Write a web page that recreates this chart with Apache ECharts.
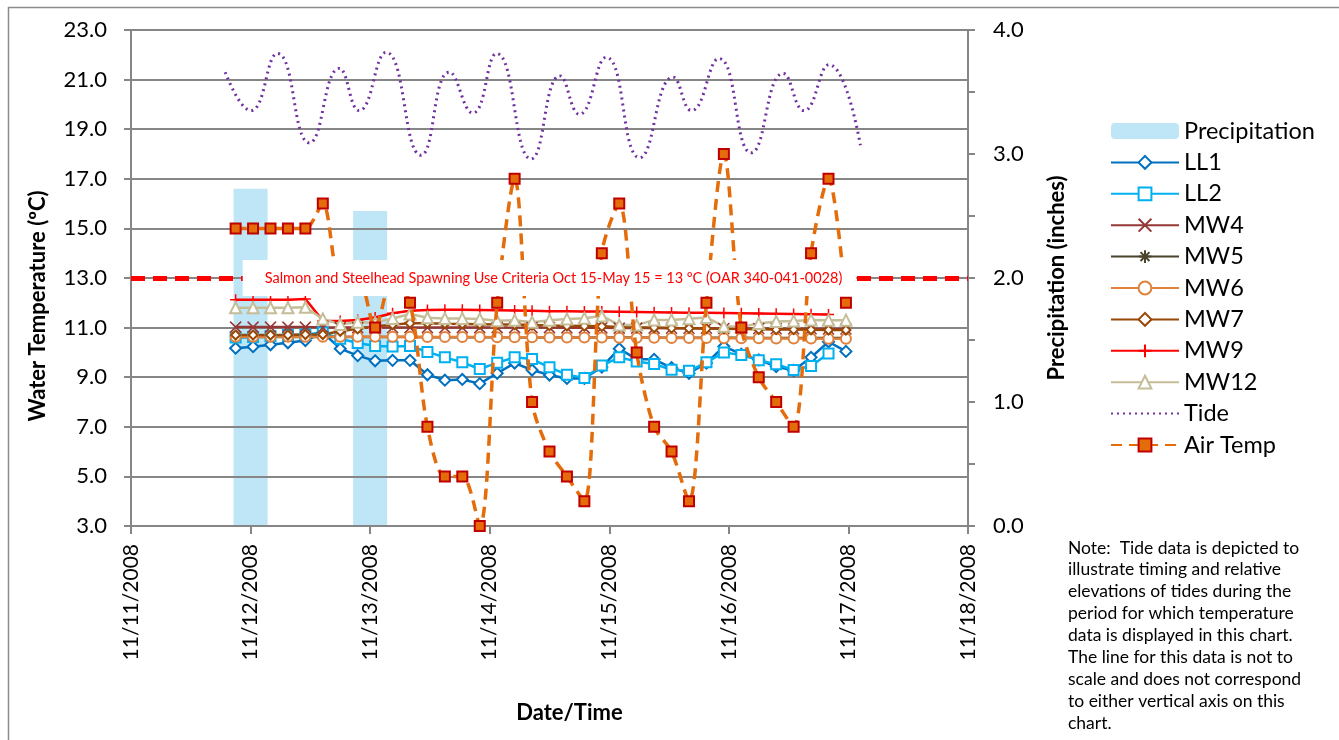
<!DOCTYPE html>
<html>
<head>
<meta charset="utf-8">
<script src="https://cdn.jsdelivr.net/npm/echarts@6/dist/echarts.min.js"></script>
<style>html,body{margin:0;padding:0;background:#fff}#c{width:1339px;height:740px}</style>
</head>
<body>
<div id="c"></div>
<script>
// ---- data ----
const dateLabels = ['11/11/2008','11/12/2008','11/13/2008','11/14/2008','11/15/2008','11/16/2008','11/17/2008','11/18/2008'];
// sample times, hours after 11/11/2008 00:00
const sampleHours = [21,24.5,28,31.5,35,38.5,42,45.5,49,52.5,56,59.5,63,66.5,70,73.5,77,80.5,84,87.5,91,94.5,98,101.5,105,108.5,112,115.5,119,122.5,126,129.5,133,136.5,140,143.5];
const precipHours = [24, 48];
const precipInches = [2.72, 2.54];
const LL1 = [10.17,10.23,10.31,10.39,10.48,10.8,10.15,9.87,9.66,9.68,9.68,9.1,8.88,8.91,8.74,9.16,9.57,9.29,9.09,8.95,8.95,9.41,10.15,9.72,9.72,9.38,9.16,9.57,10.24,9.93,9.7,9.43,9.27,9.8,10.43,10.04];
const LL2 = [10.6,10.62,10.65,10.7,10.72,10.8,10.55,10.38,10.26,10.24,10.26,10.02,9.8,9.6,9.33,9.58,9.8,9.73,9.4,9.1,8.97,9.47,9.8,9.63,9.53,9.3,9.26,9.6,10.0,9.9,9.68,9.52,9.29,9.45,9.96];
const MW4 = [11.02,11.02,11.02,11.02,11.02,11.0,11.0,11.0,11.0,11.0,11.0,11.0,11.0,11.0,11.0,11.0,11.0,11.0,11.0,10.99,10.99,10.99,10.98,10.98,10.98,10.97,10.97,10.97,10.96,10.96,10.96,10.95,10.95,10.95,10.94,10.94];
const MW5 = [10.62,10.62,10.62,10.62,10.62,10.62,10.62,10.62,10.62,10.62,10.62,10.61,10.61,10.61,10.61,10.61,10.61,10.6,10.6,10.6,10.6,10.6,10.6,10.6,10.59,10.59,10.59,10.59,10.59,10.59,10.58,10.58,10.58,10.58,10.58,10.58];
const MW6 = [10.63,10.63,10.63,10.63,10.63,10.63,10.63,10.63,10.63,10.63,10.63,10.62,10.62,10.62,10.62,10.61,10.61,10.61,10.6,10.6,10.6,10.6,10.59,10.59,10.59,10.58,10.58,10.58,10.57,10.57,10.57,10.56,10.56,10.56,10.55,10.55];
const MW7 = [10.7,10.7,10.7,10.7,10.72,10.72,10.85,10.95,11.05,11.12,11.18,11.18,11.16,11.15,11.14,11.13,11.12,11.1,11.08,11.07,11.06,11.05,11.02,11.0,11.0,10.98,10.97,10.96,10.95,10.94,10.93,10.92,10.92,10.91,10.9,10.9];
const MW9 = [12.12,12.12,12.12,12.12,12.15,11.28,11.27,11.31,11.41,11.58,11.68,11.71,11.72,11.72,11.71,11.7,11.69,11.68,11.66,11.66,11.65,11.65,11.64,11.63,11.62,11.61,11.6,11.6,11.59,11.58,11.57,11.56,11.55,11.54,11.53];
const MW12 = [11.8,11.8,11.8,11.8,11.82,11.35,11.13,11.22,11.2,11.37,11.55,11.4,11.37,11.37,11.35,11.28,11.3,11.22,11.3,11.35,11.38,11.47,11.1,11.1,11.31,11.31,11.36,11.41,11.05,11.03,11.17,11.25,11.27,11.31,11.3,11.3];
const airTemp = [15,15,15,15,15,16,13,13,11,13,12,7,5,5,3,12,17,8,6,5,4,14,16,10,7,6,4,12,18,11,9,8,7,14,17,12];
// tide (not to scale), drawn against the left axis
const tideHours = [18.9,24.05,29.4,35.8,41.8,45.8,51.2,58.2,63.9,68.6,73.4,80.3,86.1,90.0,95.4,102.1,108.8,112.5,118.0,124.5,130.9,135.1,140.1,146.4];
const tideLevel = [21.3,19.75,22.05,18.45,21.45,19.75,22.1,17.95,21.3,19.65,22.05,17.8,21.15,19.6,21.9,17.85,21.1,19.75,21.85,18.05,21.25,19.75,21.6,18.35];
const criteriaValue = 13;
const criteriaText = 'Salmon and Steelhead Spawning Use Criteria Oct 15-May 15 = 13 \u00baC (OAR 340-041-0028)';
const noteLines = ['Note:  Tide data is depicted to','illustrate timing and relative','elevations of tides during the','period for which temperature','data is displayed in this chart.','The line for this data is not to','scale and does not correspond','to either vertical axis on this','chart.'];

const FONT = 'Lato, "Open Sans", sans-serif';
const pair = (xs, ys) => ys.map((v, i) => [xs[i], v]);

function wtSeries(name, data, color, symbol, size) {
  return {
    name, type: 'line', yAxisIndex: 0, z: 3,
    data: pair(sampleHours, data),
    symbol, symbolSize: size,
    lineStyle: { color, width: 2.5 },
    itemStyle: { color, borderColor: color, borderWidth: 1.5 },
    emphasis: { disabled: true }
  };
}

const chart = echarts.init(document.getElementById('c'));
chart.setOption({
  animation: false,
  backgroundColor: '#fff',
  textStyle: { fontFamily: FONT },
  grid: { left: 131, right: 371, top: 30, bottom: 214 },
  legend: {
    orient: 'vertical', left: 1105, top: 114,
    itemWidth: 68, itemHeight: 16, itemGap: 7.4,
    textStyle: { fontSize: 23.5, color: '#000', fontFamily: FONT },
    data: ['Precipitation','LL1','LL2','MW4','MW5','MW6','MW7','MW9','MW12',
      { name: 'Tide', itemStyle: { opacity: 0 } }, 'Air Temp']
  },
  xAxis: {
    type: 'value', min: 0, max: 168, interval: 24,
    name: 'Date/Time', nameLocation: 'middle', nameGap: 176,
    nameTextStyle: { fontSize: 22, fontWeight: 'bold', color: '#000', padding: [0, 0, 0, 40] },
    axisLine: { show: true, lineStyle: { color: '#868686', width: 2 } },
    axisTick: { show: true, length: 8, lineStyle: { color: '#868686', width: 2 } },
    splitLine: { show: false },
    axisLabel: { rotate: 90, margin: 18, fontSize: 21, color: '#000',
      formatter: v => dateLabels[Math.round(v / 24)] }
  },
  yAxis: [
    {
      type: 'value', min: 3, max: 23, interval: 2, z: 1,
      name: 'Water Temperature (\u00baC)', nameLocation: 'middle', nameGap: 82, nameRotate: 90,
      nameTextStyle: { fontSize: 22, fontWeight: 'bold', color: '#000', padding: [0, 56, 0, 0] },
      axisLine: { show: true, lineStyle: { color: '#868686', width: 2 } },
      axisTick: { show: true, length: 7, lineStyle: { color: '#868686', width: 2 } },
      splitLine: { show: true, lineStyle: { color: '#868686', width: 2 } },
      axisLabel: { margin: 24, fontSize: 22, color: '#000', formatter: v => v.toFixed(1) }
    },
    {
      type: 'value', min: 0, max: 4, interval: 0.5, position: 'right', z: 1,
      name: 'Precipitation (inches)', nameLocation: 'middle', nameGap: 78, nameRotate: 90,
      nameTextStyle: { fontSize: 22, fontWeight: 'bold', color: '#000' },
      axisLine: { show: true, lineStyle: { color: '#868686', width: 2 } },
      axisTick: { show: true, length: 7, lineStyle: { color: '#868686', width: 2 } },
      splitLine: { show: false },
      axisLabel: { margin: 25, fontSize: 22, color: '#000',
        formatter: v => (Math.abs(v % 1) < 1e-9 ? v.toFixed(1) : '') }
    }
  ],
  series: [
    {
      name: 'Precipitation', type: 'bar', yAxisIndex: 1, z: 0,
      data: pair(precipHours, precipInches), barWidth: 34,
      itemStyle: { color: '#bfe6f7' }
    },
    wtSeries('LL1', LL1, '#0070c0', 'emptyDiamond', 11),
    wtSeries('LL2', LL2, '#00b0f0', 'emptyRect', 10),
    wtSeries('MW4', MW4, '#953735', 'path://M0,0L10,10M10,0L0,10', 11),
    wtSeries('MW5', MW5, '#4a452a', 'path://M5,0L5,10M0,5L10,5M1.5,1.5L8.5,8.5M8.5,1.5L1.5,8.5', 9),
    wtSeries('MW6', MW6, '#e0813c', 'emptyCircle', 10),
    wtSeries('MW7', MW7, '#984807', 'emptyDiamond', 9),
    wtSeries('MW9', MW9, '#ff0000', 'path://M5,0L5,10M0,5L10,5', 11),
    wtSeries('MW12', MW12, '#c4bd97', 'emptyTriangle', 11),
    {
      name: 'Tide', type: 'line', yAxisIndex: 0, z: 3,
      data: pair(tideHours, tideLevel), smooth: 0.5, showSymbol: false, symbol: 'none',
      lineStyle: { color: '#7030a0', width: 3, type: [2, 4], cap: 'butt' },
      itemStyle: { color: '#7030a0' }
    },
    {
      name: 'Air Temp', type: 'line', yAxisIndex: 0, z: 4,
      data: pair(sampleHours, airTemp), smooth: 0.3,
      symbol: 'rect', symbolSize: 10,
      lineStyle: { color: '#e46c0a', width: 3.5, type: [11, 7] },
      itemStyle: { color: '#e46c0a', borderColor: '#c00000', borderWidth: 2 }
    },
    {
      name: 'criteria', type: 'line', yAxisIndex: 0, z: 10, data: [],
      markLine: {
        silent: true, symbol: 'none',
        lineStyle: { color: '#ff0000', width: 5, type: [14, 8] },
        label: { show: true, position: 'middle', formatter: criteriaText,
          color: '#ff0000', fontSize: 14.5, fontFamily: FONT,
          backgroundColor: '#fff', padding: [11, 14, 10, 22], distance: -18 },
        data: [{ yAxis: criteriaValue }]
      }
    }
  ],
  graphic: [
    { type: 'rect', left: 6, top: 5, shape: { width: 1332, height: 800 }, silent: true,
      style: { fill: 'none', stroke: '#8c8c8c', lineWidth: 1.5 } },
    { type: 'text', left: 1068, top: 537, silent: true,
      style: { text: noteLines.join('\n'), font: '17.5px ' + FONT, fill: '#000', lineHeight: 21.9 } }
  ]
});
</script>
</body>
</html>
